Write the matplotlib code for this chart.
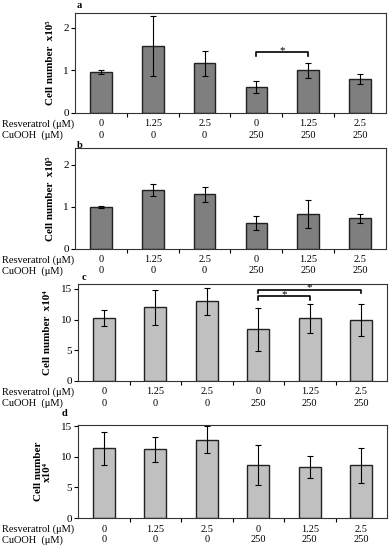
import numpy as np
import matplotlib
matplotlib.use("Agg")
import matplotlib.pyplot as plt
from matplotlib.transforms import blended_transform_factory

plt.rcParams['font.family'] = ['Liberation Serif', 'DejaVu Serif']

resveratrol = ["0", "1.25", "2.5", "0", "1.25", "2.5"]
cuooh = ["0", "0", "0", "250", "250", "250"]

vals_a = [0.97, 1.57, 1.17, 0.61, 1.00, 0.80]
err_a = [0.05, 0.70, 0.29, 0.15, 0.17, 0.12]
vals_b = [1.00, 1.40, 1.30, 0.62, 0.83, 0.73]
err_b = [0.02, 0.15, 0.18, 0.17, 0.33, 0.11]
vals_c = [10.3, 12.0, 13.0, 8.4, 10.2, 10.0]
err_c = [1.3, 2.9, 2.2, 3.5, 2.4, 2.6]
vals_d = [11.4, 11.2, 12.8, 8.7, 8.4, 8.6]
err_d = [2.7, 2.1, 2.2, 3.3, 1.8, 2.9]

# significance brackets: (from, to, height)
sig_a = [(3, 4, 1.43)]
sig_c = [(3, 4, 13.8), (3, 5, 14.9)]

W, H = 392, 550
fig = plt.figure(figsize=(W / 100, H / 100), dpi=100)


def box(l, r, t, b):
    return [l / W, 1 - b / H, (r - l) / W, (b - t) / H]


panels = [
    dict(rect=box(75, 386, 13, 113), vals=vals_a, err=err_a, color='#7f7f7f',
         ylim=2.35, yticks=[0, 1, 2], ylabel='Cell number  x10⁵', sig=sig_a,
         tag='a', tagpos=(77, 5)),
    dict(rect=box(75, 386, 148, 249), vals=vals_b, err=err_b, color='#7f7f7f',
         ylim=2.4, yticks=[0, 1, 2], ylabel='Cell number  x10⁵', sig=[],
         tag='b', tagpos=(77, 145)),
    dict(rect=box(78, 387, 284, 381), vals=vals_c, err=err_c, color='#c0c0c0',
         ylim=15.8, yticks=[0, 5, 10, 15], ylabel='Cell number  x10⁴', sig=sig_c,
         tag='c', tagpos=(82, 277)),
    dict(rect=box(78, 387, 425, 518), vals=vals_d, err=err_d, color='#c0c0c0',
         ylim=15.2, yticks=[0, 5, 10, 15], ylabel='Cell number\nx10⁴', sig=[],
         tag='d', tagpos=(62, 413)),
]

x = np.arange(len(resveratrol))
for p in panels:
    ax = fig.add_axes(p['rect'])
    ax.bar(x, p['vals'], width=0.42, color=p['color'], edgecolor='#222222', linewidth=1.0,
           yerr=p['err'], capsize=2.5, error_kw=dict(elinewidth=0.8, capthick=0.8, ecolor='black'))
    ax.set_xlim(-0.5, 5.5)
    ax.set_ylim(0, p['ylim'])
    ax.set_yticks(p['yticks'])
    ax.tick_params(axis='y', labelsize=8, length=3, width=0.8, pad=1.5)
    ax.set_xticks(x)
    ax.tick_params(axis='x', which='major', length=0, labelbottom=False)
    ax.set_xticks(x[:-1] + 0.5, minor=True)
    ax.tick_params(axis='x', which='minor', length=3, width=0.8, direction='out')
    for s in ax.spines.values():
        s.set_linewidth(0.8)
        s.set_color('#333333')
    ax.set_ylabel(p['ylabel'], fontsize=8, fontweight='bold', labelpad=6, linespacing=1.0)

    # two rows of category labels under the axis
    hpx = p['rect'][3] * H
    row1, row2 = -11 / hpx, -22 / hpx
    xa = ax.get_xaxis_transform()
    for xi, r, c in zip(x, resveratrol, cuooh):
        ax.text(xi, row1, r, transform=xa, fontsize=7.5, ha='center', va='center')
        ax.text(xi, row2, c, transform=xa, fontsize=7.5, ha='center', va='center')
    trans = blended_transform_factory(fig.transFigure, ax.transAxes)
    ax.text(2 / W, row1, 'Resveratrol (μM)', transform=trans, fontsize=7.5,
            ha='left', va='center')
    ax.text(2 / W, row2, 'CuOOH  (μM)', transform=trans, fontsize=7.5,
            ha='left', va='center')

    for i0, i1, hgt in p['sig']:
        tick = p['ylim'] * 0.035
        ax.plot([i0, i0, i1, i1], [hgt - tick, hgt, hgt, hgt - tick], color='black', lw=1.2,
                clip_on=False)
        ax.text((i0 + i1) / 2, hgt + p['ylim'] * 0.02, '*', ha='center', va='center',
                fontsize=8, clip_on=False)

    fig.text(p['tagpos'][0] / W, 1 - p['tagpos'][1] / H, p['tag'], fontsize=7.5,
             fontweight='bold', ha='left', va='center')

fig.savefig('out.png', dpi=100)
